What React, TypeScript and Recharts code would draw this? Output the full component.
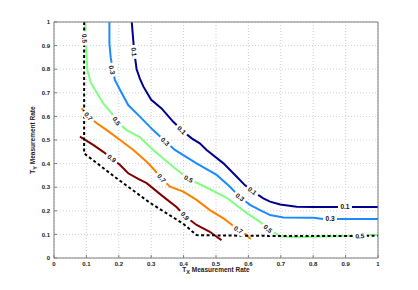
import React from "react";
import { ComposedChart, Line, Scatter, XAxis, YAxis, CartesianGrid } from "recharts";

// plot box in page pixels (the chart is pinned to the page corner)
const LEFT = 54;
const RIGHT = 378;
const TOP = 22;
const BOTTOM = 258;
const PW = RIGHT - LEFT;
const PH = BOTTOM - TOP;

const ticks = [0, 0.1, 0.2, 0.3, 0.4, 0.5, 0.6, 0.7, 0.8, 0.9, 1];

// contour levels
const c01 = [
  { x: 0.24, y: 1.0 }, { x: 0.243, y: 0.95 }, { x: 0.246, y: 0.9 }, { x: 0.25, y: 0.85 },
  { x: 0.255, y: 0.8 }, { x: 0.265, y: 0.76 }, { x: 0.276, y: 0.726 }, { x: 0.3, y: 0.67 },
  { x: 0.332, y: 0.634 }, { x: 0.368, y: 0.577 }, { x: 0.4, y: 0.535 }, { x: 0.425, y: 0.507 },
  { x: 0.45, y: 0.486 }, { x: 0.471, y: 0.458 }, { x: 0.523, y: 0.401 }, { x: 0.564, y: 0.344 },
  { x: 0.589, y: 0.309 }, { x: 0.615, y: 0.281 }, { x: 0.646, y: 0.253 }, { x: 0.667, y: 0.239 },
  { x: 0.698, y: 0.227 }, { x: 0.749, y: 0.217 }, { x: 0.8, y: 0.216 }, { x: 0.9, y: 0.216 },
  { x: 1.0, y: 0.216 },
];
const c03 = [
  { x: 0.171, y: 1.0 }, { x: 0.171, y: 0.91 }, { x: 0.175, y: 0.85 }, { x: 0.181, y: 0.8 },
  { x: 0.188, y: 0.754 }, { x: 0.204, y: 0.712 }, { x: 0.229, y: 0.648 }, { x: 0.265, y: 0.599 },
  { x: 0.306, y: 0.542 }, { x: 0.335, y: 0.505 }, { x: 0.373, y: 0.458 }, { x: 0.44, y: 0.401 },
  { x: 0.502, y: 0.352 }, { x: 0.543, y: 0.302 }, { x: 0.574, y: 0.258 }, { x: 0.605, y: 0.225 },
  { x: 0.636, y: 0.203 }, { x: 0.667, y: 0.182 }, { x: 0.708, y: 0.172 }, { x: 0.8, y: 0.171 },
  { x: 0.831, y: 0.165 }, { x: 0.914, y: 0.165 }, { x: 1.0, y: 0.165 },
];
const c05 = [
  { x: 0.096, y: 1.0 }, { x: 0.099, y: 0.895 }, { x: 0.103, y: 0.797 }, { x: 0.113, y: 0.745 },
  { x: 0.127, y: 0.712 }, { x: 0.152, y: 0.655 }, { x: 0.178, y: 0.613 }, { x: 0.193, y: 0.58 },
  { x: 0.224, y: 0.542 }, { x: 0.265, y: 0.512 }, { x: 0.3, y: 0.465 }, { x: 0.358, y: 0.397 },
  { x: 0.415, y: 0.335 }, { x: 0.461, y: 0.305 }, { x: 0.533, y: 0.255 }, { x: 0.595, y: 0.19 },
  { x: 0.636, y: 0.153 }, { x: 0.66, y: 0.124 }, { x: 0.698, y: 0.092 }, { x: 0.75, y: 0.088 },
  { x: 0.8, y: 0.09 }, { x: 0.9, y: 0.093 }, { x: 1.0, y: 0.098 },
];
const c07 = [
  { x: 0.085, y: 0.634 }, { x: 0.106, y: 0.6 }, { x: 0.132, y: 0.571 }, { x: 0.163, y: 0.542 },
  { x: 0.204, y: 0.5 }, { x: 0.245, y: 0.458 }, { x: 0.286, y: 0.408 }, { x: 0.31, y: 0.373 },
  { x: 0.332, y: 0.338 }, { x: 0.358, y: 0.302 }, { x: 0.399, y: 0.281 }, { x: 0.44, y: 0.246 },
  { x: 0.481, y: 0.203 }, { x: 0.523, y: 0.168 }, { x: 0.543, y: 0.147 }, { x: 0.569, y: 0.119 },
  { x: 0.595, y: 0.097 }, { x: 0.607, y: 0.08 },
];
const c09 = [
  { x: 0.08, y: 0.514 }, { x: 0.121, y: 0.479 }, { x: 0.152, y: 0.45 }, { x: 0.178, y: 0.422 },
  { x: 0.204, y: 0.394 }, { x: 0.229, y: 0.359 }, { x: 0.26, y: 0.335 }, { x: 0.286, y: 0.317 },
  { x: 0.337, y: 0.26 }, { x: 0.379, y: 0.215 }, { x: 0.404, y: 0.178 }, { x: 0.44, y: 0.14 },
  { x: 0.481, y: 0.111 }, { x: 0.502, y: 0.09 }, { x: 0.517, y: 0.076 },
];
const boundary = [
  { x: 0.093, y: 1.0 }, { x: 0.093, y: 0.444 }, { x: 0.1, y: 0.436 }, { x: 0.193, y: 0.338 },
  { x: 0.296, y: 0.234 }, { x: 0.399, y: 0.145 }, { x: 0.44, y: 0.097 }, { x: 0.6, y: 0.094 },
  { x: 0.8, y: 0.093 }, { x: 1.0, y: 0.094 },
];

const labels = [
  { x: 0.247, y: 0.873, level: "0.1" }, { x: 0.394, y: 0.542, level: "0.1" },
  { x: 0.612, y: 0.284, level: "0.1" }, { x: 0.898, y: 0.216, level: "0.1" },
  { x: 0.179, y: 0.797, level: "0.3" }, { x: 0.343, y: 0.493, level: "0.3" },
  { x: 0.574, y: 0.258, level: "0.3" }, { x: 0.852, y: 0.165, level: "0.3" },
  { x: 0.094, y: 0.93, level: "0.5" }, { x: 0.193, y: 0.58, level: "0.5" },
  { x: 0.415, y: 0.335, level: "0.5" }, { x: 0.66, y: 0.124, level: "0.5" },
  { x: 0.944, y: 0.093, level: "0.5" },
  { x: 0.106, y: 0.6, level: "0.7" }, { x: 0.332, y: 0.338, level: "0.7" },
  { x: 0.569, y: 0.119, level: "0.7" },
  { x: 0.178, y: 0.422, level: "0.9" }, { x: 0.404, y: 0.178, level: "0.9" },
];

const levels: Record<string, { x: number; y: number }[]> = {
  "0.1": c01, "0.3": c03, "0.5": c05, "0.7": c07, "0.9": c09,
};

const FONT = "'Liberation Sans', Arial, sans-serif";
const AXIS = "#7f7f7f";

const fmt = (v: number) => (v === 0 ? "0" : v === 1 ? "1" : v.toFixed(1));

// angle of the contour near a label, in screen degrees
function angleAt(pts: { x: number; y: number }[], x: number, y: number) {
  let best = 0;
  let bd = Infinity;
  for (let i = 0; i < pts.length - 1; i++) {
    const mx = ((pts[i].x + pts[i + 1].x) / 2 - x) * PW;
    const my = ((pts[i].y + pts[i + 1].y) / 2 - y) * PH;
    const d = mx * mx + my * my;
    if (d < bd) {
      bd = d;
      best = i;
    }
  }
  const dx = (pts[best + 1].x - pts[best].x) * PW;
  const dy = -(pts[best + 1].y - pts[best].y) * PH;
  let a = (Math.atan2(dy, dx) * 180) / Math.PI;
  if (a > 90) a -= 180;
  if (a <= -90) a += 180;
  return a;
}

const ContourLabel = (props: any) => {
  const { cx, cy, payload } = props;
  const a = angleAt(levels[payload.level], payload.x, payload.y);
  return (
    <g transform={`translate(${cx},${cy}) rotate(${a})`}>
      <rect x={-7} y={-4} width={14} height={8} fill="#fff" />
      <text x={0} y={2.3} textAnchor="middle" fontSize={6.5} fontWeight="bold" fontFamily={FONT} fill="#111">
        {payload.level}
      </text>
    </g>
  );
};

const LeftTick = (props: any) => {
  const { y, payload } = props;
  return (
    <g>
      <line x1={LEFT} x2={LEFT + 3} y1={y} y2={y} stroke={AXIS} />
      <text x={LEFT - 4} y={y + 2.2} textAnchor="end" fontSize={6} fontWeight="bold" fontFamily={FONT} fill="#222">
        {fmt(payload.value)}
      </text>
    </g>
  );
};

const BottomTick = (props: any) => {
  const { x, payload } = props;
  return (
    <g>
      <line x1={x} x2={x} y1={BOTTOM} y2={BOTTOM - 3} stroke={AXIS} />
      <text x={x} y={BOTTOM + 8} textAnchor="middle" fontSize={6} fontWeight="bold" fontFamily={FONT} fill="#222">
        {fmt(payload.value)}
      </text>
    </g>
  );
};

const TopTick = (props: any) => (
  <line x1={props.x} x2={props.x} y1={TOP} y2={TOP + 3} stroke={AXIS} />
);
const RightTick = (props: any) => (
  <line x1={RIGHT} x2={RIGHT - 3} y1={props.y} y2={props.y} stroke={AXIS} />
);

const XTitle = () => (
  <text x={(LEFT + RIGHT) / 2} y={BOTTOM + 14} textAnchor="middle" fontSize={6.5} fontWeight="bold" fontFamily={FONT} fill="#222">
    T<tspan dy={1.8} fontSize={5.5}>X</tspan>
    <tspan dy={-1.8}> Measurement Rate</tspan>
  </text>
);

const YTitle = () => (
  <text
    x={0}
    y={0}
    transform={`translate(35,${(TOP + BOTTOM) / 2}) rotate(-90)`}
    textAnchor="middle"
    fontSize={6.5}
    fontWeight="bold"
    fontFamily={FONT}
    fill="#222"
  >
    T<tspan dy={1.8} fontSize={5.5}>Y</tspan>
    <tspan dy={-1.8}> Measurement Rate</tspan>
  </text>
);

const series = [
  { data: c01, color: "#00008f" },
  { data: c03, color: "#1a8cff" },
  { data: c05, color: "#80ff80" },
  { data: c07, color: "#ff8000" },
  { data: c09, color: "#800000" },
];

export default function App() {
  return (
    <div style={{ position: "absolute", left: 0, top: 0, width: 418, height: 290, background: "#fff" }}>
      <ComposedChart
        width={418}
        height={290}
        margin={{ top: TOP - 1, right: 418 - RIGHT - 1, left: LEFT - 30, bottom: 290 - BOTTOM - 20 }}
      >
        <CartesianGrid stroke="#cfcfcf" strokeDasharray="1 2" />
        <XAxis
          dataKey="x"
          type="number"
          domain={[0, 1]}
          ticks={ticks}
          height={20}
          stroke={AXIS}
          tickLine={false}
          tick={<BottomTick />}
          label={<XTitle />}
        />
        <XAxis
          xAxisId="top"
          orientation="top"
          type="number"
          domain={[0, 1]}
          ticks={ticks}
          height={1}
          stroke={AXIS}
          tickLine={false}
          tick={<TopTick />}
        />
        <YAxis
          type="number"
          domain={[0, 1]}
          ticks={ticks}
          width={30}
          stroke={AXIS}
          tickLine={false}
          tick={<LeftTick />}
          label={<YTitle />}
        />
        <YAxis
          yAxisId="right"
          orientation="right"
          type="number"
          domain={[0, 1]}
          ticks={ticks}
          width={1}
          stroke={AXIS}
          tickLine={false}
          tick={<RightTick />}
        />
        {series.map((s, i) => (
          <Line
            key={i}
            data={s.data}
            dataKey="y"
            type="linear"
            stroke={s.color}
            strokeWidth={2}
            dot={false}
            activeDot={false}
            isAnimationActive={false}
          />
        ))}
        <Line
          data={boundary}
          dataKey="y"
          type="linear"
          stroke="#000"
          strokeWidth={2}
          strokeDasharray="3 2.5"
          dot={false}
          activeDot={false}
          isAnimationActive={false}
        />
        <Scatter data={labels} dataKey="y" shape={ContourLabel} isAnimationActive={false} />
      </ComposedChart>
    </div>
  );
}
